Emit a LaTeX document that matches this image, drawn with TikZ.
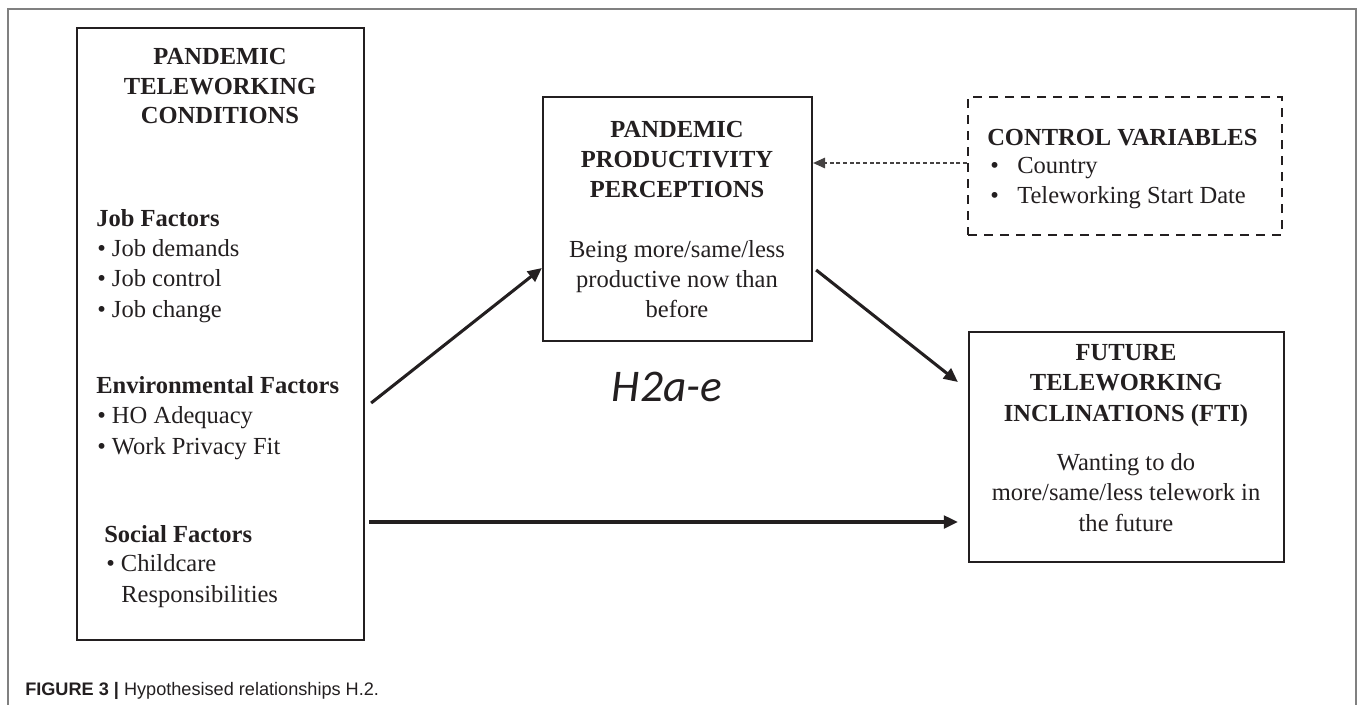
\documentclass[tikz,border=0pt]{standalone}
\usepackage{fontspec}
\setmainfont{Liberation Serif}
\newfontfamily\capfont{Liberation Sans}
\newfontfamily\hfont{Carlito}
\usetikzlibrary{arrows.meta,calc,fit}
\definecolor{ink}{HTML}{231F20}
\begin{document}
\begin{tikzpicture}[x=0.75pt,y=-0.75pt,
  box/.style={draw=ink, line width=1.7pt, inner sep=0pt},
  dbox/.style={draw=ink, line width=1.6pt, inner sep=0pt, dash pattern=on 6.5pt off 5.5pt},
  tx/.style={inner sep=0pt, text=ink, font=\fontsize{18.4}{22}\selectfont, anchor=base},
  txl/.style={tx, anchor=base west},
  txb/.style={tx, font=\fontsize{18.4}{22}\selectfont\bfseries},
  txbl/.style={txb, anchor=base west},
  arr/.style={draw=ink, line width=2.3pt, -{Triangle[length=10.5pt,width=9.5pt]}},
  darr/.style={draw=ink!85, line width=0.8pt, dash pattern=on 3pt off 2pt, -{Triangle[length=9pt,width=8pt]}}
]
\useasboundingbox (0,0) rectangle (1358,704);
% outer frame
\draw[black!50, line width=0.9pt] (8,730) -- (8,9) -- (1356,9) -- (1356,730);

% boxes
\coordinate (p1) at (77,28);   \coordinate (p2) at (364,640);
\coordinate (q1) at (543,97);  \coordinate (q2) at (812,341);
\coordinate (c1) at (968,97);  \coordinate (c2) at (1282,235);
\coordinate (f1) at (969,332); \coordinate (f2) at (1284,562);
\node[box, fit=(p1)(p2)] (ptc) {};
\node[box, fit=(q1)(q2)] (ppp) {};
\node[dbox, fit=(c1)(c2)] (ctrl) {};
\node[box, fit=(f1)(f2)] (fti) {};

% PTC text
\node[txb] (t1) at (220,64) {PANDEMIC};
\node[txb] (t2) at (220,94) {TELEWORKING};
\node[txb] (t3) at (220,123) {CONDITIONS};
\node[txbl] (j0) at (96,226) {Job Factors};
\node[txl] (j1) at (97,256) {• Job demands};
\node[txl] (j2) at (97,286) {• Job control};
\node[txl] (j3) at (97,317) {• Job change};
\node[txbl] (e0) at (96,393) {Environmental Factors};
\node[txl] (e1) at (97,423) {• HO Adequacy};
\node[txl] (e2) at (97,454) {• Work Privacy Fit};
\node[txbl] (s0) at (104,542) {Social Factors};
\node[txl] (s1) at (106,571) {• Childcare};
\node[txl] (s2) at (121,602) {Responsibilities};

% PPP text
\node[txb] (u1) at (677,137) {PANDEMIC};
\node[txb] (u2) at (677,167) {PRODUCTIVITY};
\node[txb] (u3) at (677,197) {PERCEPTIONS};
\node[tx] (u4) at (677,257) {Being more/same/less};
\node[tx] (u5) at (677,287) {productive now than};
\node[tx] (u6) at (677,317) {before};

% control text
\node[txbl] (v0) at (987,145) {CONTROL VARIABLES};
\node[txl] (v1b) at (990,173) {•};
\node[txl] (v1) at (1017,173) {Country};
\node[txl] (v2b) at (990,203) {•};
\node[txl] (v2) at (1017,203) {Teleworking Start Date};

% FTI text
\node[txb] (w1) at (1126,360) {FUTURE};
\node[txb] (w2) at (1126,390) {TELEWORKING};
\node[txb] (w3) at (1126,421) {INCLINATIONS (FTI)};
\node[tx] (w4) at (1126,470) {Wanting to do};
\node[tx] (w5) at (1126,500) {more/same/less telework in};
\node[tx] (w6) at (1126,531) {the future};

% hypothesis label
\node[inner sep=0pt, anchor=base, text=ink, font=\hfont\itshape\fontsize{34}{40}\selectfont] (h) at (667,401) {H2a-e};

% arrows
\draw[arr] ($(ptc.east |- 0,403)+(6,0)$) -- (ppp.west |- 0,268);
\draw[arr] ($(ppp.east |- 0,270)+(3,0)$) -- ($(fti.west |- 0,382)+(-10,0)$);
\draw[arr] ($(ptc.east |- 0,522)+(4,0)$) -- ($(fti.west |- 0,522)+(-10,0)$);
\draw[darr] (ctrl.west |- 0,163) -- (ppp.east |- 0,163);

% caption
\node[inner sep=0pt, anchor=base west, text=ink, font=\capfont\fontsize{13.6}{16}\selectfont] (cap) at (25,695) {\textbf{FIGURE 3 |} Hypothesised relationships H.2.};
\end{tikzpicture}
\end{document}
